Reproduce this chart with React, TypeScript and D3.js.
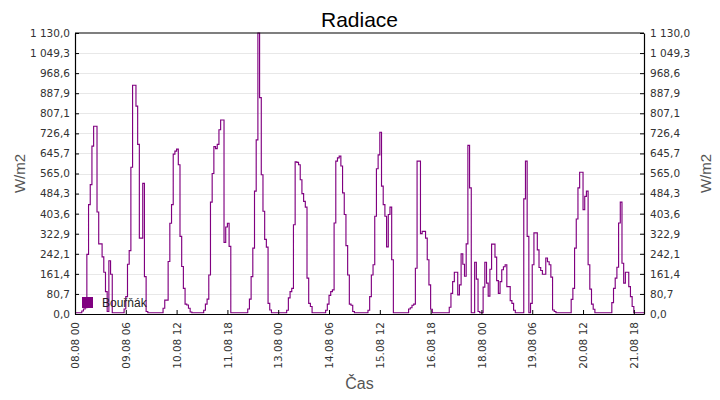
import { useEffect, useRef } from "react";
import * as d3 from "d3";

// first sample, one value per hour after it
const start = new Date(2019, 7, 8, 0, 0);

// Radiace (W/m2), hodinové hodnoty, 00..23 h každého dne
const d0808 = [5, 5, 5, 5, 12, 20, 25, 240, 440, 520, 675, 755, 755, 410, 282, 282, 230, 168, 90, 10, 214, 160, 5, 5];
const d0908 = [5, 5, 5, 5, 5, 20, 70, 200, 255, 590, 920, 920, 836, 682, 305, 305, 525, 150, 10, 5, 5, 5, 5, 5];
const d1008 = [5, 5, 5, 5, 23, 56, 56, 211, 365, 440, 643, 655, 663, 600, 312, 191, 103, 40, 36, 23, 8, 5, 5, 5];
const d1108 = [5, 5, 5, 5, 15, 40, 60, 157, 450, 565, 673, 665, 682, 741, 780, 780, 288, 350, 365, 272, 5, 5, 5, 5];
const d1208 = [5, 5, 5, 5, 5, 5, 20, 60, 150, 265, 494, 700, 1130, 870, 560, 413, 300, 269, 43, 16, 5, 5, 5, 5];
const d1308 = [5, 5, 5, 5, 5, 15, 65, 90, 103, 359, 612, 610, 600, 540, 484, 453, 430, 144, 43, 30, 5, 5, 5, 5];
const d1408 = [5, 5, 5, 5, 15, 40, 75, 90, 97, 366, 615, 628, 635, 595, 487, 400, 275, 157, 40, 35, 10, 5, 5, 5];
const d1508 = [5, 5, 5, 5, 5, 15, 70, 157, 198, 393, 584, 640, 731, 514, 440, 393, 270, 400, 430, 218, 5, 5, 5, 5];
const d1608 = [5, 5, 5, 5, 5, 20, 25, 35, 40, 184, 615, 615, 323, 332, 332, 305, 218, 117, 19, 5, 5, 5, 5, 5];
const d1708 = [5, 5, 5, 5, 5, 27, 83, 130, 168, 168, 77, 117, 242, 200, 152, 282, 678, 507, 5, 5, 208, 140, 10, 5];
const d1808 = [5, 108, 208, 124, 72, 180, 281, 281, 229, 134, 83, 130, 178, 190, 198, 110, 110, 54, 43, 15, 5, 5, 5, 5];
const d1908 = [5, 463, 615, 312, 5, 43, 198, 326, 326, 258, 187, 175, 160, 160, 225, 210, 198, 148, 16, 10, 5, 5, 5, 5];
const d2008 = [5, 5, 5, 5, 5, 59, 103, 265, 382, 507, 570, 570, 420, 473, 494, 198, 100, 40, 19, 5, 5, 5, 5, 5];
const d2108 = [5, 5, 5, 5, 5, 46, 103, 144, 188, 366, 450, 204, 124, 168, 168, 110, 70, 30, 5, 5, 5, 5, 5, 5];

const days = [d0808, d0908, d1008, d1108, d1208, d1308, d1408, d1508, d1608, d1708, d1808, d1908, d2008, d2108];

const seriesName = "Bouřňák";
const yMax = 1130;
const yTicks = d3.range(15).map((i) => (yMax * i) / 14);
const xTickHours = d3.range(0, 331, 30);

const cz = d3.formatLocale({
  decimal: ",",
  thousands: " ",
  grouping: [3],
  currency: ["", " Kč"],
});
const fmtY = cz.format(",.1f");
const fmtX = d3.timeFormat("%d.%m %H");

const tickFont = "'DejaVu Sans', sans-serif";
const labelFont = "'Liberation Sans', Arial, sans-serif";

const App = () => {
  const ref = useRef<SVGSVGElement>(null);

  useEffect(() => {
    const svg = d3.select(ref.current);
    svg.selectAll("*").remove();

    const width = 720,
      height = 400,
      margin = { top: 33, right: 76, bottom: 86, left: 75 };

    const points = days.flat().map((v, i) => ({
      t: d3.timeHour.offset(start, i),
      v,
    }));
    // hold the last value until the end of the hour
    points.push({
      t: d3.timeHour.offset(start, points.length),
      v: points[points.length - 1].v,
    });

    const x = d3
      .scaleTime()
      .domain([start, d3.timeHour.offset(start, days.length * 24)])
      .range([margin.left, width - margin.right]);
    const y = d3
      .scaleLinear()
      .domain([0, yMax])
      .range([height - margin.bottom, margin.top]);

    svg.attr("width", width).attr("height", height);
    svg.append("rect").attr("width", width).attr("height", height).attr("fill", "#fff");

    /* grid */
    svg
      .append("g")
      .selectAll("line")
      .data(yTicks.slice(1, -1))
      .join("line")
      .attr("x1", margin.left)
      .attr("x2", width - margin.right)
      .attr("y1", (d) => Math.round(y(d)) + 0.5)
      .attr("y2", (d) => Math.round(y(d)) + 0.5)
      .attr("stroke", "#e8e8e8");

    /* data */
    svg
      .append("clipPath")
      .attr("id", "plot")
      .append("rect")
      .attr("x", margin.left)
      .attr("y", margin.top - 1)
      .attr("width", width - margin.left - margin.right)
      .attr("height", height - margin.top - margin.bottom + 1);

    const line = d3
      .line<{ t: Date; v: number }>()
      .x((d) => x(d.t))
      .y((d) => y(d.v))
      .curve(d3.curveStepAfter);

    svg
      .append("path")
      .datum(points)
      .attr("clip-path", "url(#plot)")
      .attr("fill", "none")
      .attr("stroke", "#800080")
      .attr("stroke-width", 1.15)
      .attr("d", line);

    /* axes */
    const styleAxis = (g: d3.Selection<SVGGElement, unknown, null, undefined>) => {
      g.select(".domain").attr("stroke", "#000").attr("stroke-width", 1.2);
      g.selectAll(".tick line").attr("stroke", "#000");
      g.selectAll("text")
        .attr("fill", "#333")
        .style("font-family", tickFont)
        .style("font-size", "10.5px");
    };

    svg
      .append("g")
      .attr("transform", `translate(${margin.left},0)`)
      .call(d3.axisLeft(y).tickValues(yTicks).tickFormat(fmtY).tickSizeInner(-4).tickSizeOuter(0).tickPadding(5))
      .call(styleAxis);

    svg
      .append("g")
      .attr("transform", `translate(${width - margin.right},0)`)
      .call(d3.axisRight(y).tickValues(yTicks).tickFormat(fmtY).tickSizeInner(-4).tickSizeOuter(0).tickPadding(6))
      .call(styleAxis);

    const xAxis = svg
      .append("g")
      .attr("transform", `translate(0,${height - margin.bottom})`)
      .call(
        d3
          .axisBottom(x)
          .tickValues(xTickHours.map((h) => d3.timeHour.offset(start, h)))
          .tickFormat((d) => fmtX(d as Date))
          .tickSizeInner(-4)
          .tickSizeOuter(0)
      )
      .call(styleAxis);
    xAxis
      .selectAll("text")
      .attr("transform", "rotate(-90)")
      .attr("text-anchor", "end")
      .attr("x", -8)
      .attr("y", 0)
      .attr("dy", "0.35em");

    svg
      .append("line")
      .attr("x1", margin.left)
      .attr("x2", width - margin.right)
      .attr("y1", margin.top)
      .attr("y2", margin.top)
      .attr("stroke", "#000")
      .attr("stroke-width", 1.2);

    /* titles */
    const cx = (margin.left + width - margin.right) / 2;
    const cy = (margin.top + height - margin.bottom) / 2;

    svg
      .append("text")
      .attr("x", cx)
      .attr("y", 27)
      .attr("text-anchor", "middle")
      .style("font-family", labelFont)
      .style("font-size", "21px")
      .attr("fill", "#000")
      .text("Radiace");

    svg
      .append("text")
      .attr("x", cx)
      .attr("y", 389)
      .attr("text-anchor", "middle")
      .style("font-family", labelFont)
      .style("font-size", "16px")
      .attr("fill", "#555")
      .text("Čas");

    [25, 711].forEach((tx) => {
      svg
        .append("text")
        .attr("transform", `translate(${tx},${cy}) rotate(-90)`)
        .attr("text-anchor", "middle")
        .style("font-family", labelFont)
        .style("font-size", "15px")
        .attr("fill", "#555")
        .text("W/m2");
    });

    /* legend */
    svg
      .append("rect")
      .attr("x", 82)
      .attr("y", 297)
      .attr("width", 11)
      .attr("height", 11)
      .attr("fill", "#800080");
    svg
      .append("text")
      .attr("x", 102)
      .attr("y", 307)
      .style("font-family", labelFont)
      .style("font-size", "12px")
      .attr("fill", "#222")
      .text(seriesName);
  }, []);

  return <svg ref={ref} style={{ position: "absolute", left: 0, top: 0 }} />;
};

export default App;
